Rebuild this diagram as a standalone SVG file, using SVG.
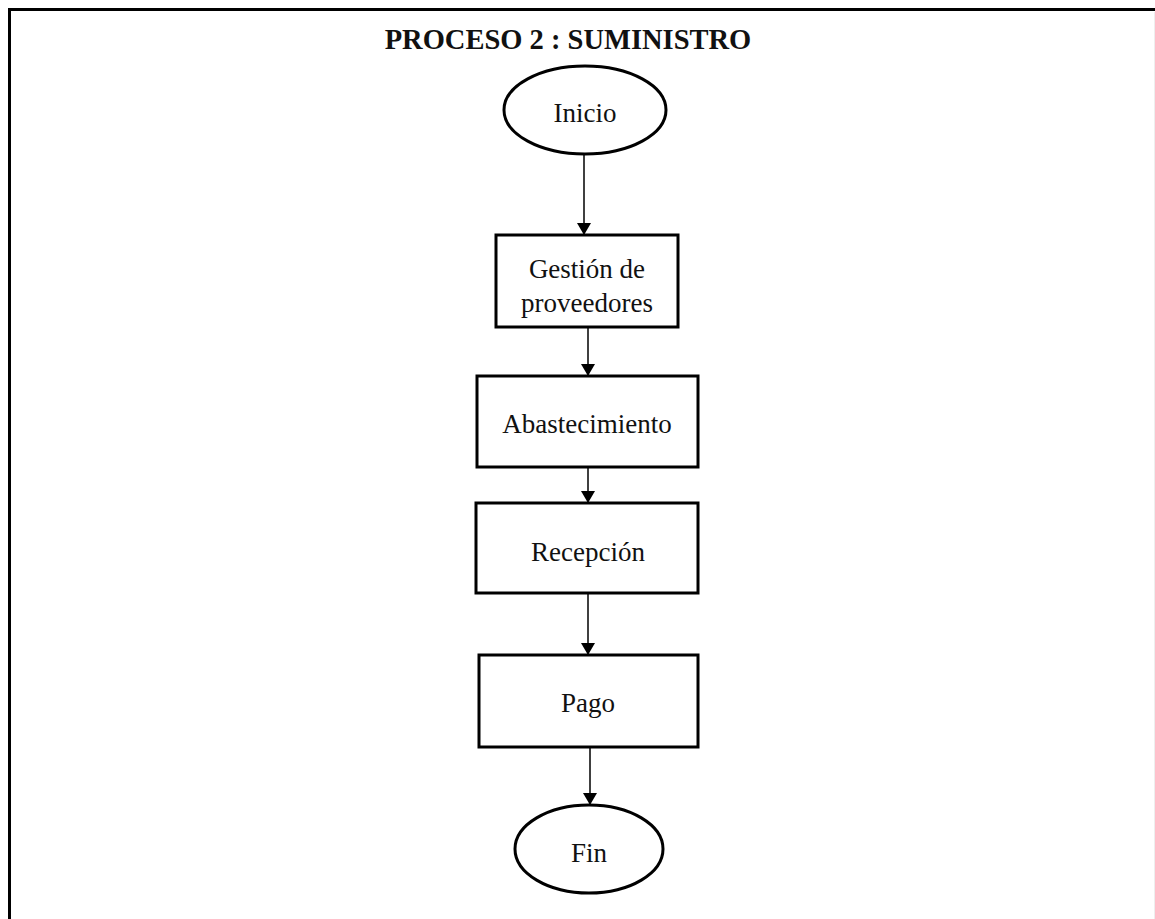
<svg xmlns="http://www.w3.org/2000/svg" width="1155" height="919" viewBox="0 0 1155 919">
  <style>
    .frame { fill: none; stroke: #000; stroke-width: 3; }
    .shape { fill: #fff; stroke: #000; stroke-width: 3; }
    .label { font-family: "Liberation Serif", "Times New Roman", serif; font-size: 27px; fill: #111; text-anchor: middle; }
    .title { font-family: "Liberation Serif", "Times New Roman", serif; font-size: 28.5px; font-weight: bold; fill: #111; text-anchor: middle; }
    .link { fill: none; stroke: #000; stroke-width: 1.5; marker-end: url(#arrow); }
  </style>
  <defs>
    <marker id="arrow" viewBox="0 0 12 14" refX="12" refY="7" markerWidth="12" markerHeight="14" markerUnits="userSpaceOnUse" orient="auto">
      <path d="M0,0 L12,7 L0,14 Z" fill="#000"/>
    </marker>
  </defs>

  <rect width="1155" height="919" fill="#fff"/>
  <!-- page frame: top and left edges -->
  <path class="frame" d="M9.5,919 L9.5,9.5 L1155,9.5"/>
  <line x1="1154.5" y1="12" x2="1154.5" y2="919" stroke="#eee" stroke-width="1"/>

  <text class="title" x="568" y="49">PROCESO 2 : SUMINISTRO</text>

  <g id="connectors">
    <line class="link" x1="584" y1="154" x2="584" y2="235"/>
    <line class="link" x1="588" y1="327" x2="588" y2="376"/>
    <line class="link" x1="588" y1="467" x2="588" y2="503"/>
    <line class="link" x1="588" y1="593" x2="588" y2="655"/>
    <line class="link" x1="590" y1="747" x2="590" y2="805"/>
  </g>

  <g id="inicio">
    <ellipse class="shape" cx="585" cy="110" rx="81" ry="44"/>
    <text class="label" x="585" y="122">Inicio</text>
  </g>

  <g id="gestion-proveedores">
    <rect class="shape" x="496" y="235" width="182" height="92"/>
    <text class="label" x="587" y="278">Gestión de</text>
    <text class="label" x="587" y="312">proveedores</text>
  </g>

  <g id="abastecimiento">
    <rect class="shape" x="477" y="376" width="221" height="91"/>
    <text class="label" x="587" y="433">Abastecimiento</text>
  </g>

  <g id="recepcion">
    <rect class="shape" x="476" y="503" width="222" height="90"/>
    <text class="label" x="588" y="561">Recepción</text>
  </g>

  <g id="pago">
    <rect class="shape" x="479" y="655" width="219" height="92"/>
    <text class="label" x="588" y="712">Pago</text>
  </g>

  <g id="fin">
    <ellipse class="shape" cx="589" cy="849" rx="74" ry="44"/>
    <text class="label" x="589" y="862">Fin</text>
  </g>
</svg>
